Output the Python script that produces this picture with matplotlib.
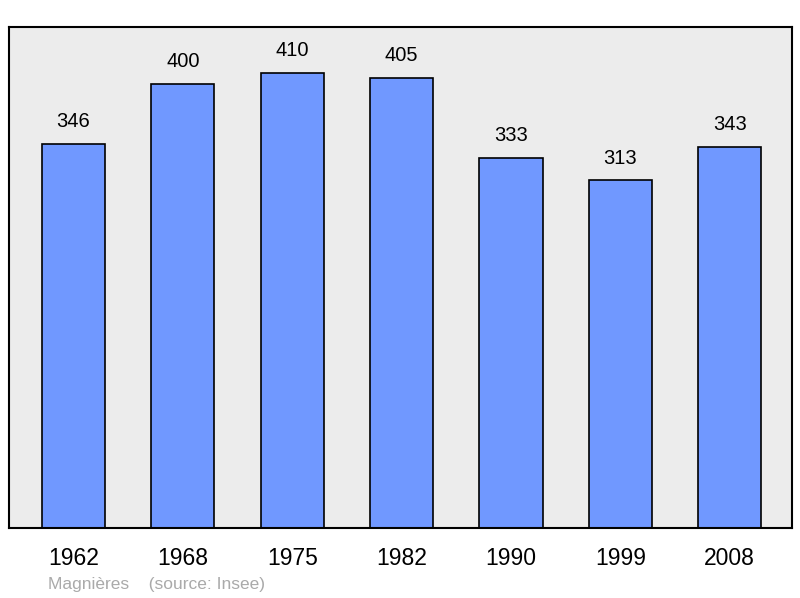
import matplotlib.pyplot as plt

plt.rcParams['font.family'] = ['Liberation Sans', 'DejaVu Sans']

years = ['1962', '1968', '1975', '1982', '1990', '1999', '2008']
population = [346, 400, 410, 405, 333, 313, 343]

fig = plt.figure(figsize=(8, 5.98), dpi=100)
ax = fig.add_axes([9 / 800, 1 - 528 / 598, 783 / 800, 501 / 598])
ax.set_facecolor('#ececec')

x = range(len(years))
ax.bar(x, population, width=0.577, color='#7098ff', edgecolor='black', linewidth=1.2)
for i, v in enumerate(population):
    ax.text(i, v + 20, str(v), ha='center', va='center', fontsize=14.5)

ax.set_xlim(-0.59, 6.57)
ax.set_ylim(0, 451)
ax.set_yticks([])
ax.set_xticks(list(x))
ax.set_xticklabels(years, fontsize=16.5)
ax.tick_params(axis='x', length=0, pad=14)
for s in ax.spines.values():
    s.set_linewidth(1.5)

fig.text(48 / 800, 1 - 584 / 598, 'Magnières    (source: Insee)', color='#aaaaaa',
         fontsize=12.5, va='center', ha='left')

fig.savefig('out.png', dpi=100)
